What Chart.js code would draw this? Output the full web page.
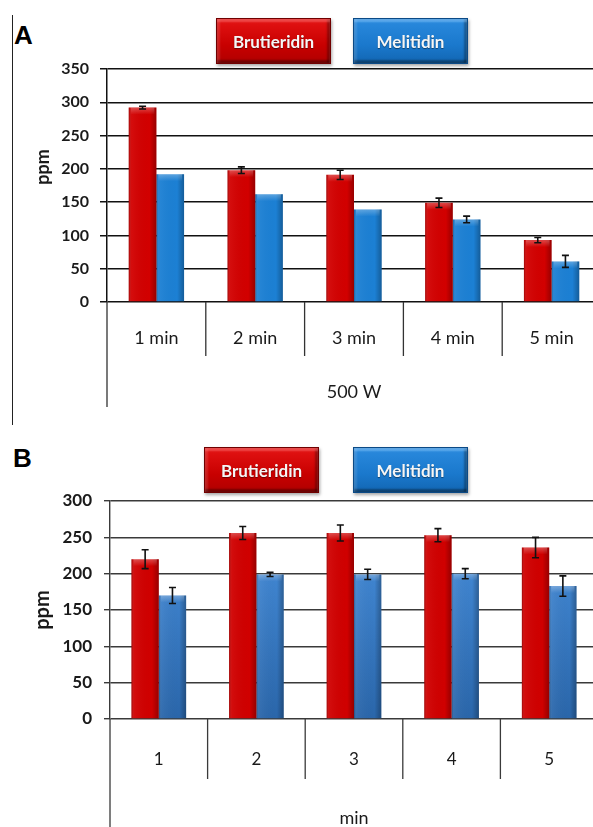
<!DOCTYPE html>
<html>
<head>
<meta charset="utf-8">
<script src="https://cdn.jsdelivr.net/npm/chart.js@4.4.1/dist/chart.umd.min.js"></script>
<style>
html, body { margin: 0; padding: 0; background: #fff; width: 593px; height: 827px; overflow: hidden; }
canvas { position: absolute; left: 0; }
#chartA { top: 0; }
#chartB { top: 425px; }
.tag { position: absolute; font: bold 26px "Liberation Sans", Arial, sans-serif; line-height: 26px; color: #000; }
.frame { position: absolute; left: 12px; top: 15px; width: 1px; height: 410px; background: #222; }
.key {
    position: absolute; width: 115px; height: 46px; box-sizing: border-box;
    display: flex; align-items: center; justify-content: center;
    font: bold 17px Lato, sans-serif; color: #f6f6f6;
    text-shadow: 0 1px 1px rgba(0,0,0,0.45);
}
.key.red {
    background: linear-gradient(#e41414, #c80000 60%, #b00000);
    border: 1px solid #700000;
    box-shadow: inset 0 3px 2px rgba(255,140,140,0.45), inset 0 -3px 2px rgba(0,0,0,0.35),
                inset 3px 0 2px rgba(255,255,255,0.12), inset -3px 0 2px rgba(0,0,0,0.3),
                1px 2px 3px rgba(0,0,0,0.35);
}
.key.blue {
    background: linear-gradient(#2a8ade, #1a78cc 60%, #1266b2);
    border: 1px solid #0b4a86;
    box-shadow: inset 0 3px 2px rgba(160,210,255,0.45), inset 0 -3px 2px rgba(0,0,0,0.35),
                inset 3px 0 2px rgba(255,255,255,0.12), inset -3px 0 2px rgba(0,0,0,0.3),
                1px 2px 3px rgba(0,0,0,0.35);
}
</style>
</head>
<body>
<div class="frame"></div>
<div class="tag" style="left:14px; top:22px;">A</div>
<div class="tag" style="left:13px; top:445px;">B</div>
<canvas id="chartA" width="620" height="425"></canvas>
<canvas id="chartB" width="620" height="402"></canvas>

<script>
// Series names and category labels
const seriesNames = ['Brutieridin', 'Melitidin'];
const minutesA = ['1 min', '2 min', '3 min', '4 min', '5 min'];
const minutesB = ['1', '2', '3', '4', '5'];
const groupA = '500 W';
const groupB = 'min';

// Panel A values (ppm) and error bars
const brutieridinA = [292, 198, 191, 149, 93];
const brutieridinErrA = [2, 5, 7, 7, 4];
const melitidinA = [192, 162, 139, 124, 61];
const melitidinErrA = [0, 0, 0, 5, 9];

// Panel B values (ppm) and error bars
const brutieridinB = [220, 256, 256, 253, 236];
const brutieridinErrB = [13, 9, 11, 9, 14];
const melitidinB = [170, 199, 199, 200, 183];
const melitidinErrB = [11, 3, 7, 7, 14];

const textColor = '#1a1a1a';

// legend buttons
function addKey(name, cls, left, top) {
    const d = document.createElement('div');
    d.className = 'key ' + cls;
    d.style.left = left + 'px';
    d.style.top = top + 'px';
    d.textContent = name;
    document.body.appendChild(d);
}
addKey(seriesNames[0], 'red', 216, 18);
addKey(seriesNames[1], 'blue', 353, 18);
addKey(seriesNames[0], 'red', 204, 447);
addKey(seriesNames[1], 'blue', 353, 447);

// bar shading, error bars, category dividers, group label and y title
const panelDecor = {
    id: 'panelDecor',
    afterDatasetsDraw(chart, args, opts) {
        const {ctx, scales: {y}} = chart;
        ctx.save();
        chart.data.datasets.forEach((ds, di) => {
            const meta = chart.getDatasetMeta(di);
            meta.data.forEach((bar, i) => {
                const p = bar.getProps(['x', 'y', 'base', 'width'], true);
                const left = p.x - p.width / 2;
                const g = ctx.createLinearGradient(left, 0, left + p.width, 0);
                g.addColorStop(0, 'rgba(0,0,0,0.25)');
                g.addColorStop(0.1, 'rgba(255,255,255,0.05)');
                g.addColorStop(0.75, 'rgba(0,0,0,0)');
                g.addColorStop(1, 'rgba(0,0,0,0.28)');
                ctx.fillStyle = g;
                ctx.fillRect(left, p.y, p.width, p.base - p.y);
                const t = ctx.createLinearGradient(0, p.y, 0, p.y + 7);
                t.addColorStop(0, 'rgba(255,255,255,0.28)');
                t.addColorStop(1, 'rgba(255,255,255,0)');
                ctx.fillStyle = t;
                ctx.fillRect(left + 2, p.y, p.width - 4, 7);
            });
        });
        // error bars
        ctx.strokeStyle = '#111';
        ctx.lineWidth = 1.6;
        chart.data.datasets.forEach((ds, di) => {
            const meta = chart.getDatasetMeta(di);
            meta.data.forEach((bar, i) => {
                const err = ds.errors[i];
                if (!err) return;
                const v = ds.data[i];
                const top = y.getPixelForValue(v + err);
                const bot = y.getPixelForValue(v - err);
                const cx = bar.x;
                ctx.beginPath();
                ctx.moveTo(cx, top); ctx.lineTo(cx, bot);
                ctx.moveTo(cx - 3.5, top); ctx.lineTo(cx + 3.5, top);
                ctx.moveTo(cx - 3.5, bot); ctx.lineTo(cx + 3.5, bot);
                ctx.stroke();
            });
        });
        ctx.restore();
    },
    afterDraw(chart, args, opts) {
        const {ctx, chartArea, scales: {x}} = chart;
        const n = chart.data.labels.length;
        ctx.save();
        ctx.strokeStyle = opts.lineColor;
        ctx.lineWidth = 1.3;
        ctx.beginPath();
        // dividers between categories
        for (let i = 1; i <= n; i++) {
            const px = i < n ? (x.getPixelForValue(i - 1) + x.getPixelForValue(i)) / 2 : x.right;
            ctx.moveTo(px, chartArea.bottom);
            ctx.lineTo(px, chartArea.bottom + opts.dividerDepth);
        }
        // y axis carried down through the category rows
        ctx.moveTo(chartArea.left, chartArea.bottom);
        ctx.lineTo(chartArea.left, chartArea.bottom + opts.axisDepth);
        ctx.stroke();

        ctx.fillStyle = textColor;
        ctx.textAlign = 'center';
        ctx.textBaseline = 'middle';
        ctx.font = '18px Lato, sans-serif';
        ctx.fillText(opts.group, (chartArea.left + chartArea.right) / 2, chartArea.bottom + opts.groupOffset);

        ctx.translate(43, opts.titleY);
        ctx.rotate(-Math.PI / 2);
        ctx.font = 'bold ' + opts.titleSize + 'px Lato, sans-serif';
        ctx.fillText('ppm', 0, 0);
        ctx.restore();
    }
};

function makeChart(id, cfg) {
    return new Chart(document.getElementById(id), {
        type: 'bar',
        data: {
            labels: cfg.labels,
            datasets: [{
                label: seriesNames[0],
                data: cfg.red,
                errors: cfg.redErr,
                backgroundColor: cfg.redColor,
                borderWidth: 0,
                categoryPercentage: 0.56,
                barPercentage: 1.0
            }, {
                label: seriesNames[1],
                data: cfg.blue,
                errors: cfg.blueErr,
                backgroundColor: cfg.blueColor,
                borderWidth: 0,
                categoryPercentage: 0.56,
                barPercentage: 1.0
            }]
        },
        options: {
            responsive: false,
            animation: false,
            layout: { padding: cfg.padding },
            scales: {
                y: {
                    min: 0,
                    max: cfg.max,
                    afterFit: s => { s.width = cfg.axisWidth; },
                    ticks: {
                        stepSize: 50,
                        color: textColor,
                        padding: cfg.tickPad,
                        font: { family: 'Lato', size: cfg.tickSize, weight: 'bold' }
                    },
                    grid: { color: cfg.gridColor, lineWidth: cfg.gridWidth, tickLength: cfg.tickLen },
                    border: { display: true, color: cfg.gridColor, width: cfg.gridWidth }
                },
                x: {
                    afterFit: s => { s.height = cfg.xHeight; },
                    ticks: {
                        color: textColor,
                        padding: cfg.labelPad,
                        font: { family: 'Lato', size: cfg.labelSize }
                    },
                    grid: { display: false, drawTicks: false },
                    border: { display: false }
                }
            },
            plugins: {
                legend: { display: false },
                tooltip: { enabled: false },
                panelDecor: cfg.decor
            }
        },
        plugins: [panelDecor]
    });
}

// vertical shading for the panel B blue bars
function blueFadeB(c) {
    const area = c.chart.chartArea;
    if (!area) return '#2f74c0';
    const g = c.chart.ctx.createLinearGradient(0, area.top, 0, area.bottom);
    g.addColorStop(0, '#5b9ce2');
    g.addColorStop(0.35, '#3f84cf');
    g.addColorStop(1, '#2a66aa');
    return g;
}

makeChart('chartA', {
    labels: minutesA, max: 350,
    red: brutieridinA, redErr: brutieridinErrA,
    blue: melitidinA, blueErr: melitidinErrA,
    redColor: '#d20000', blueColor: '#1c80d4',
    padding: { top: 69, right: 19, left: 0, bottom: 0 },
    axisWidth: 107, xHeight: 123,
    tickPad: 11, tickLen: 7, tickSize: 16,
    labelPad: 25, labelSize: 18,
    gridColor: '#111', gridWidth: 1.5,
    decor: { group: groupA, groupOffset: 90, dividerDepth: 54, axisDepth: 105,
             lineColor: '#333', titleY: 167, titleSize: 18 }
});

makeChart('chartB', {
    labels: minutesB, max: 300,
    red: brutieridinB, redErr: brutieridinErrB,
    blue: melitidinB, blueErr: melitidinErrB,
    redColor: '#d00000', blueColor: blueFadeB,
    padding: { top: 76, right: 22, left: 0, bottom: 0 },
    axisWidth: 110, xHeight: 108,
    tickPad: 12, tickLen: 6, tickSize: 17,
    labelPad: 30, labelSize: 17,
    gridColor: '#3a3a3a', gridWidth: 1.4,
    decor: { group: groupB, groupOffset: 99, dividerDepth: 60, axisDepth: 120,
             lineColor: '#3a3a3a', titleY: 185, titleSize: 20 }
});
</script>
</body>
</html>
